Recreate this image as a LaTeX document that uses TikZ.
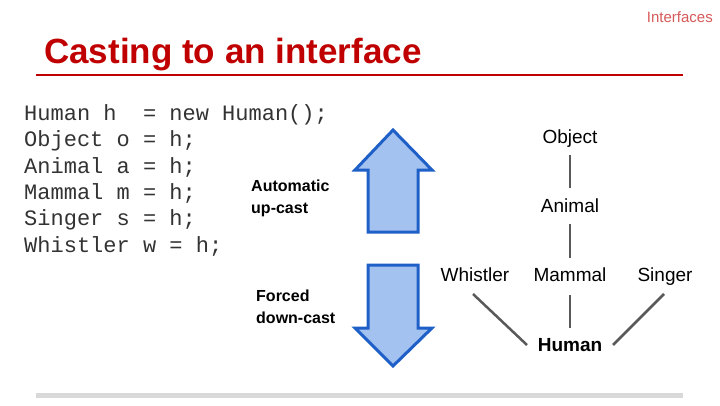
\documentclass[tikz,border=0pt]{standalone}
\usepackage{fontspec}
\setmainfont{Liberation Sans}
\setmonofont{Liberation Mono}
\definecolor{arrfill}{HTML}{A4C2F0}
\definecolor{arrline}{HTML}{1F5FC8}
\definecolor{titlered}{HTML}{C00000}
\begin{document}
\begin{tikzpicture}[x=1pt,y=-1pt,
  code/.style={anchor=west,inner sep=0pt,text=black!80,font=\fontsize{22}{26}\ttfamily},
  lbl/.style={inner sep=1pt,text height=14pt,text depth=4pt,font=\fontsize{19}{22}\selectfont},
  side/.style={anchor=west,align=left,inner sep=0pt,font=\fontsize{16}{22}\selectfont\bfseries},
  link/.style={draw=black!65,line width=2.5pt},
  bigarrow/.style={draw=arrline,fill=arrfill,line width=3pt,line join=miter}]
\useasboundingbox (0,0) rectangle (720,405);
\node[anchor=east,inner sep=0pt,text=titlered!65,font=\fontsize{15}{18}\selectfont] (hdr) at (713,17) {Interfaces};
\node[anchor=west,inner sep=0pt,text=titlered,font=\fontsize{35}{38}\selectfont\bfseries] (title) at (44,55) {Casting to an interface};
\draw[titlered,line width=2pt] (36,75) -- (683,75);
\fill[black!15] (36,393) rectangle (683,398);
\node[code] (c1) at (24,115) {Human h\ \ = new Human();};
\node[code] (c2) at (24,141) {Object o = h;};
\node[code] (c3) at (24,167) {Animal a = h;};
\node[code] (c4) at (24,193) {Mammal m = h;};
\node[code] (c5) at (24,220) {Singer s = h;};
\node[code] (c6) at (24,246) {Whistler w = h;};
\node[side] (up) at (251,198) {Automatic\\up-cast};
\node[side] (down) at (256,307) {Forced\\down-cast};
\draw[bigarrow] (393,130) -- (432,170) -- (418,170) -- (418,232) -- (368,232) -- (368,170) -- (355,170) -- cycle;
\draw[bigarrow] (393,366) -- (432,328) -- (418,328) -- (418,265) -- (368,265) -- (368,328) -- (355,328) -- cycle;
\node[lbl] (obj) at (570,138) {Object};
\node[lbl] (ani) at (570,207) {Animal};
\node[lbl] (whi) at (475,276) {Whistler};
\node[lbl] (mam) at (570,276) {Mammal};
\node[lbl] (sin) at (665,276) {Singer};
\node[lbl,font=\fontsize{19}{22}\selectfont\bfseries] (hum) at (570,346) {Human};
\coordinate (w1) at (473,294); \coordinate (s1) at (664,294);
\coordinate (hw) at (527,345); \coordinate (hs) at (613,345);
\draw[link] (570,155) -- (570,188);
\draw[link] (570,224) -- (570,258);
\draw[link] (570,295) -- (570,328);
\draw[link] (w1) -- (hw);
\draw[link] (s1) -- (hs);
\end{tikzpicture}
\end{document}
